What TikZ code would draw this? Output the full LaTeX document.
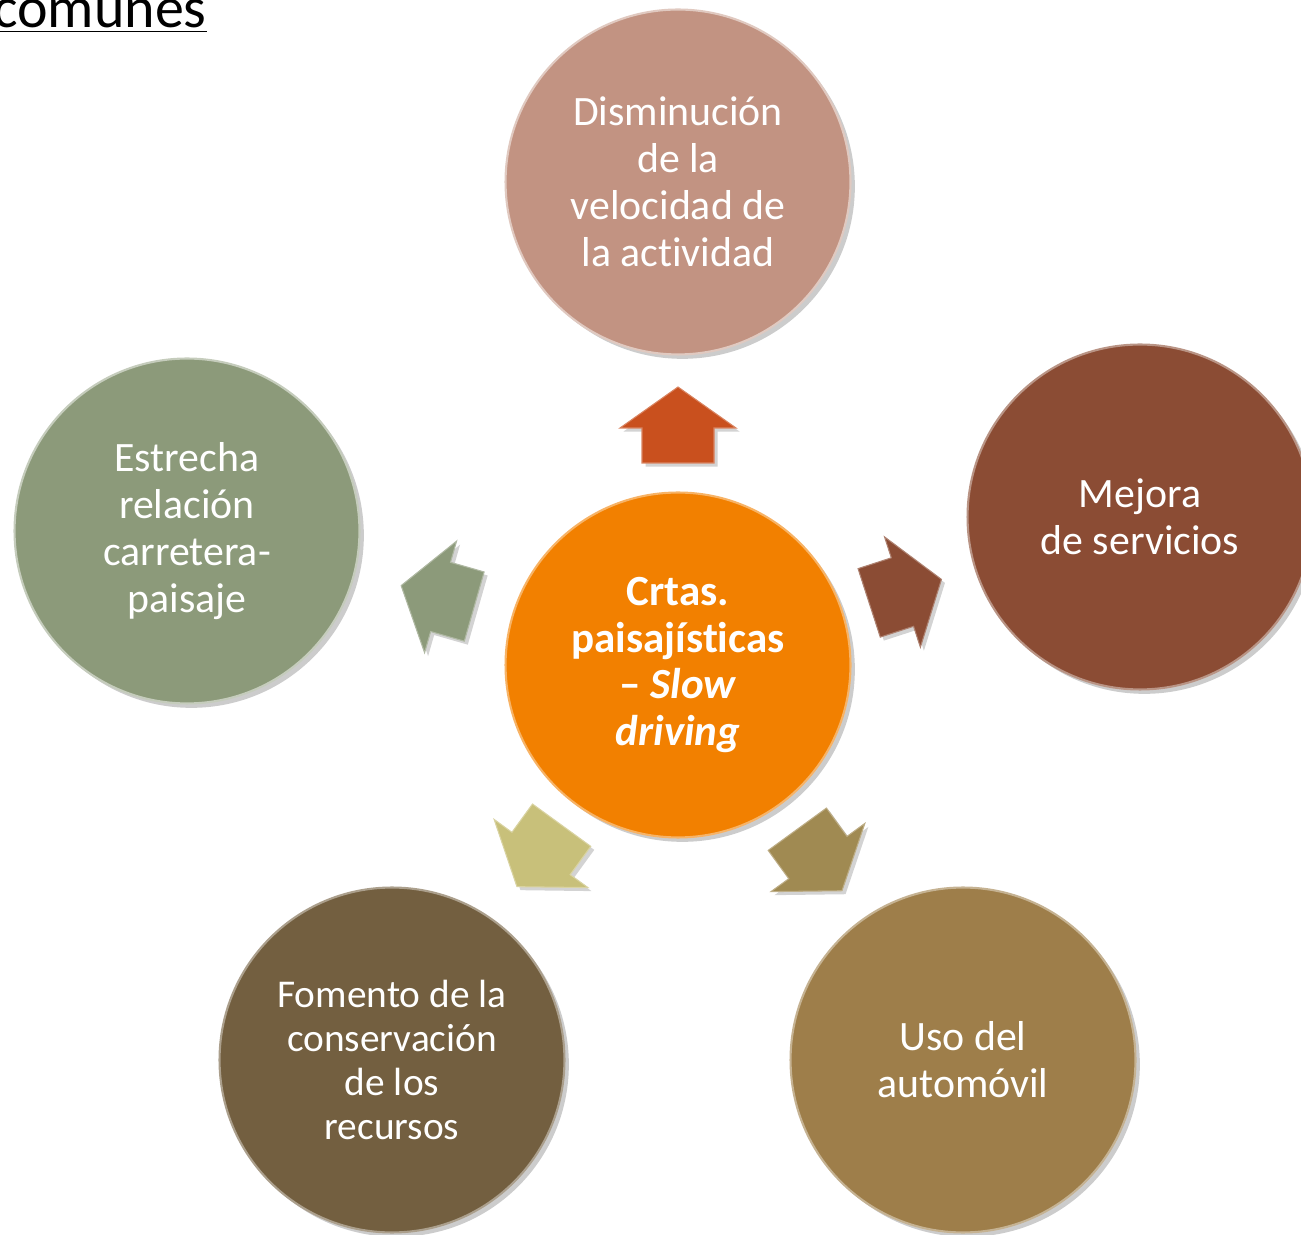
\documentclass[tikz,border=0pt]{standalone}
\usepackage{fontspec}
\setmainfont{Carlito}[Ligatures=NoCommon]
\usetikzlibrary{shadows}

\definecolor{cNaranja}{HTML}{F28000}
\definecolor{cRosa}{HTML}{C29382}
\definecolor{cMarron}{HTML}{8B4C34}
\definecolor{cVerde}{HTML}{8C9A7A}
\definecolor{cOscuro}{HTML}{735F40}
\definecolor{cOcre}{HTML}{9E7E4A}
\definecolor{fRoja}{HTML}{C9501E}
\definecolor{fAmarilla}{HTML}{C8C07A}
\definecolor{fOcre}{HTML}{A08A52}

\begin{document}
\begin{tikzpicture}[x=0.02cm,y=0.02cm,
	circulo/.style={circle,minimum size=6.9cm,inner sep=0pt,align=center,text=white,
		font=\fontsize{23.8}{26.7}\selectfont,line width=1.2pt,
		drop shadow={shadow xshift=2.5pt,shadow yshift=-2.5pt,opacity=0.4}},
	flecha/.style={line width=0.6pt,
		drop shadow={shadow xshift=2pt,shadow yshift=-2pt,opacity=0.35}}]
	\useasboundingbox (0,0) rectangle (1301,1234);
	
	% titulo cortado
	\node[anchor=base east,inner sep=0pt,font=\fontsize{33}{40}\selectfont] (titulo) at (207,1206) {\underline{comunes}};
	
	% circulos
	\node[circulo,fill=cNaranja,draw=cNaranja!60!white,font=\fontsize{24.5}{26.7}\selectfont\bfseries] (mid) at (678,569)
		{Crtas.\\paisajísticas\\– \textit{Slow}\\\textit{driving}};
	\node[circulo,fill=cRosa,draw=cRosa!50!white] (arriba) at (678,1052) {Disminución\\de la\\velocidad de\\la actividad};
	\node[circulo,fill=cMarron,draw=cMarron!60!white] (derecha) at (1140,717) {Mejora\\de servicios};
	\node[circulo,fill=cVerde,draw=cVerde!50!white] (izquierda) at (187,703) {Estrecha\\relación\\carretera-\\paisaje};
	\node[circulo,fill=cOscuro,draw=cOscuro!60!white,font=\fontsize{22.4}{25}\selectfont] (abajoizq) at (392,174) {Fomento de la\\conservación\\de los\\recursos};
	\node[circulo,fill=cOcre,draw=cOcre!60!white] (abajoder) at (963,174) {Uso del\\automóvil};
	
	% flechas
	\foreach \ang/\r/\col in {90/240/fRoja, 18/239/cMarron, 164/250/cVerde, -126/236/fAmarilla, -54/241/fOcre}{
		\draw[flecha,fill=\col,draw=\col!70!white,shift={(mid)},rotate=\ang-90,shift={(0,\r)}]
			(0,38) -- (58,-3) -- (36,-3) -- (36,-38) -- (-36,-38) -- (-36,-3) -- (-58,-3) -- cycle;
	}
\end{tikzpicture}
\end{document}
